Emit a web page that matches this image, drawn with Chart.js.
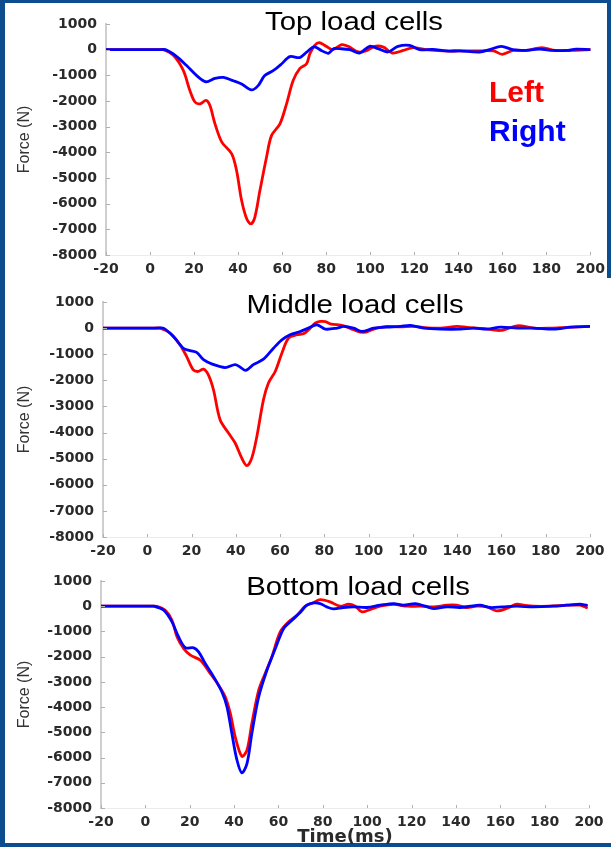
<!DOCTYPE html>
<html lang="en">
<head>
<meta charset="UTF-8" />
<title>Load cell forces</title>
<style>
  html, body { margin: 0; padding: 0; }
  body { width: 611px; height: 847px; background: #0b4d8e; position: relative; overflow: hidden; }
  .panel { position: absolute; background: #fff; }
  canvas { position: absolute; left: 0; }
</style>
</head>
<body>
<div class="panel" style="left:5px;top:3px;width:602px;height:275px"></div>
<div class="panel" style="left:5px;top:278px;width:606px;height:565px"></div>
<canvas id="chart-top" width="611" height="280" style="top:0"></canvas>
<canvas id="chart-mid" width="611" height="280" style="top:280px"></canvas>
<canvas id="chart-bot" width="611" height="287" style="top:560px"></canvas>

<script src="https://cdn.jsdelivr.net/npm/chart.js@4"></script>
<script>
  // time (ms) and force (N), one pair of arrays per curve
  const topLeftT = [-20, 3.5, 6, 10.6, 15.1, 18.1, 20.4, 22.7, 25.4, 27.2, 29.5, 32.6, 37.1, 39.3, 41.6, 43.9, 45.8, 47.6, 49.9, 52.9, 55.2, 59, 62, 65, 68, 71.1, 72.6, 74.8, 77, 80, 83, 87, 90, 94.5, 98, 102, 106, 110, 115, 119.5, 125, 133, 141, 148, 156, 160, 165, 171, 178, 184, 192, 200];
  const topLeftF = [0, 0, 0, -220, -810, -1590, -2040, -2110, -1980, -2180, -2890, -3600, -4060, -4710, -5880, -6590, -6790, -6530, -5490, -4190, -3340, -2890, -2110, -1200, -740, -550, -160, 170, 270, 130, 0, 195, 130, -90, -50, 130, 100, -130, -30, 80, 0, -50, -50, -50, -50, -180, -30, -30, 80, -30, -30, 0];
  const topRightT = [-20, 4.5, 7, 12, 16.6, 21.2, 25.4, 29.5, 33.3, 37.8, 41.6, 46.1, 49.1, 52.1, 55.9, 59.7, 63.5, 68, 71.1, 74.5, 78, 81, 83.5, 86, 90.7, 95.2, 99.7, 103.5, 108, 112.6, 117.9, 122.4, 128.5, 134.5, 140.6, 149.7, 154.2, 159.5, 164.8, 169.3, 176.9, 183, 189, 193.5, 200];
  const topRightF = [0, 0, 0, -260, -620, -1010, -1250, -1120, -1080, -1210, -1340, -1570, -1400, -1010, -820, -560, -270, -310, -100, 110, -40, -140, 40, 40, 0, -130, 130, 40, -90, 130, 170, 0, 10, -50, -50, -90, 0, 130, 0, -30, 20, -30, -30, 20, 0];

  const midLeftT = [-20, 3.3, 5.8, 10.3, 14.8, 17.8, 20.8, 23.1, 25.4, 27.6, 29.9, 32.9, 36.7, 39.7, 42.7, 45, 47.2, 49.5, 52.5, 54.7, 57.8, 60.8, 63.8, 67.6, 71, 73.6, 76, 78.1, 80.5, 82.7, 88.7, 93.2, 97.7, 102.3, 108.3, 114.3, 120.4, 126.4, 132.4, 139.9, 144.5, 152, 159.6, 167.1, 174.6, 182.2, 189.7, 200];
  const midLeftF = [0, 0, 0, -190, -640, -1090, -1600, -1660, -1570, -1790, -2360, -3510, -4020, -4400, -4980, -5270, -4980, -4150, -2740, -2110, -1660, -960, -380, -255, -200, 0, 200, 255, 250, 166, 89, -64, -166, -38, 64, 50, 64, 10, 0, 64, 30, -20, -89, 89, 0, 0, 30, 64];
  const midRightT = [-20, 4.8, 7.3, 11.8, 16.3, 19.3, 22.3, 25.4, 29.1, 35.2, 39.7, 41.9, 44.5, 47.9, 52.5, 57, 60.8, 64.5, 69.1, 72.8, 76.6, 80.4, 85.7, 88.7, 93.2, 97, 102.3, 108.3, 114.3, 118.9, 124.9, 132.4, 141.5, 147.5, 153.5, 159.6, 167.1, 174.6, 183.7, 191.3, 200];
  const midRightF = [0, 0, 0, -320, -770, -860, -930, -1210, -1370, -1510, -1400, -1490, -1620, -1400, -1190, -770, -450, -255, -130, 0, 128, -38, 0, 64, 0, -128, 0, 38, 64, 102, 0, -38, -38, 0, -38, 38, 0, 0, -38, 38, 64];

  const botLeftT = [-20, 2.7, 5.2, 9, 12, 14.3, 17.3, 20.3, 24.8, 29.3, 33, 36, 38.3, 40.5, 43.5, 45.8, 48, 51.1, 54, 57, 60.8, 64.6, 68.3, 72.1, 75.8, 78.8, 83.3, 87.8, 91.6, 94.6, 97.6, 101.3, 105.9, 111.9, 117.9, 123.9, 129.9, 135.9, 140.4, 144.9, 149.4, 153.9, 158.4, 162.9, 167.4, 170.4, 174.9, 182.4, 189.9, 195.9, 198.9];
  const botLeftF = [0, 0, 0, -160, -560, -1220, -1680, -1940, -2140, -2670, -3130, -3590, -4250, -5180, -5950, -5710, -4650, -3330, -2670, -2010, -1020, -620, -360, 0, 140, 260, 172, 0, 79, 0, -225, -132, 0, 79, 0, 0, -26, 40, 40, -53, 0, -26, -185, -90, 79, 40, 0, 0, 40, 40, -53];
  const botRightT = [-20, 1.5, 3.8, 8.3, 12, 15, 18, 21.8, 24, 27, 30.8, 34.5, 36.8, 39, 41.3, 43.5, 45.8, 48, 51.1, 54.8, 58.6, 62.3, 66.1, 69.8, 72.8, 75.8, 78.8, 81.8, 84.8, 89.3, 93.8, 99.9, 105.9, 111.9, 116.4, 121.7, 126.2, 129.9, 135.9, 141.9, 146.4, 150.9, 155.4, 161, 167.4, 175, 183.9, 190, 195.9, 198.9];
  const botRightF = [0, 0, 0, -160, -620, -1220, -1640, -1650, -1810, -2270, -2800, -3400, -3990, -5050, -6100, -6610, -6240, -5050, -3590, -2540, -1680, -890, -555, -250, 40, 132, 106, -26, -106, -50, -26, -50, 40, 106, 40, 106, 0, -92, -26, -50, 0, 40, -50, -26, 0, -26, 0, 40, 79, 40];

  const seriesNames = ['Left', 'Right'];
  const timeTicks = { min: -20, max: 200, step: 20 };
  const forceTicks = { min: -8000, max: 1000, step: 1000 };

  const toPoints = (t, f) => t.map((x, i) => ({ x: x, y: f[i] }));

  // title text drawn inside the plot; the source image is a bit stretched sideways
  const panelTitle = {
    id: 'panelTitle',
    afterDraw(chart, args, opts) {
      if (!opts.text) return;
      const ctx = chart.ctx;
      ctx.save();
      ctx.translate(opts.x, opts.y);
      ctx.scale(1.13, 1);
      ctx.font = '26px "Liberation Sans", Arial, sans-serif';
      ctx.fillStyle = '#000';
      ctx.textAlign = 'center';
      ctx.textBaseline = 'alphabetic';
      ctx.fillText(opts.text, 0, 0);
      ctx.restore();
    }
  };

  // big coloured "Left" / "Right" labels
  const sideLegend = {
    id: 'sideLegend',
    afterDraw(chart, args, opts) {
      if (!opts.show) return;
      const ctx = chart.ctx;
      ctx.save();
      ctx.font = 'bold 30px "Liberation Sans", Arial, sans-serif';
      ctx.textAlign = 'left';
      ctx.textBaseline = 'alphabetic';
      chart.data.datasets.forEach((ds, i) => {
        ctx.fillStyle = ds.borderColor;
        ctx.fillText(ds.label, opts.x, opts.y + i * opts.gap);
      });
      ctx.restore();
    }
  };

  // short tick marks pointing into the plot
  const innerTicks = {
    id: 'innerTicks',
    afterDraw(chart) {
      const ctx = chart.ctx;
      const xs = chart.scales.x, ys = chart.scales.y;
      ctx.save();
      ctx.strokeStyle = '#b0b0b0';
      ctx.lineWidth = 1;
      ctx.beginPath();
      xs.ticks.forEach(t => {
        const px = Math.round(xs.getPixelForValue(t.value)) + 0.5;
        ctx.moveTo(px, ys.bottom);
        ctx.lineTo(px, ys.bottom - 3);
      });
      ys.ticks.forEach(t => {
        const py = Math.round(ys.getPixelForValue(t.value)) + 0.5;
        ctx.moveTo(xs.left, py);
        ctx.lineTo(xs.left + 4, py);
      });
      ctx.stroke();
      ctx.restore();
    }
  };

  const tickFont = { family: '"DejaVu Sans", sans-serif', size: 14, weight: 'bold' };
  const plainNumber = v => String(v);

  function makeChart(id, cfg) {
    const canvas = document.getElementById(id);
    const h = canvas.height;
    new Chart(canvas, {
      type: 'line',
      data: {
        datasets: [
          { label: seriesNames[0], data: toPoints(cfg.leftT, cfg.leftF), borderColor: '#ff0000', order: 2 },
          { label: seriesNames[1], data: toPoints(cfg.rightT, cfg.rightF), borderColor: '#0000ff', order: 1 }
        ]
      },
      options: {
        responsive: false,
        animation: false,
        layout: { padding: { top: cfg.area.top, right: 611 - cfg.area.right, bottom: 0, left: 0 } },
        elements: {
          point: { radius: 0 },
          line: { borderWidth: 2.8, tension: 0.32, fill: false, borderJoinStyle: 'round', borderCapStyle: 'round' }
        },
        plugins: {
          legend: { display: false },
          tooltip: { enabled: false },
          panelTitle: { text: cfg.title, x: cfg.titleX, y: cfg.titleY },
          sideLegend: { show: !!cfg.legend, x: 489, y: 102, gap: 39 }
        },
        scales: {
          x: {
            type: 'linear',
            min: timeTicks.min,
            max: timeTicks.max,
            afterFit: s => { s.height = h - cfg.area.bottom; },
            grid: { display: false, drawTicks: false },
            border: { color: '#ececec', width: 1 },
            ticks: { stepSize: timeTicks.step, padding: 6, color: '#2a2a2a', font: tickFont, maxRotation: 0, callback: plainNumber },
            title: {
              display: !!cfg.xTitle,
              text: cfg.xTitle || '',
              color: '#2a2a2a',
              font: { family: '"DejaVu Sans", sans-serif', size: 18, weight: 'bold' },
              padding: { top: 0, bottom: -1 }
            }
          },
          y: {
            min: forceTicks.min,
            max: forceTicks.max,
            afterFit: s => { s.width = cfg.area.left; },
            grid: { display: false, drawTicks: false },
            border: { color: '#cfcfcf', width: 2 },
            ticks: { stepSize: forceTicks.step, padding: 9, color: '#2a2a2a', font: tickFont, callback: plainNumber },
            title: {
              display: true,
              text: 'Force (N)',
              color: '#333',
              font: { family: '"Liberation Sans", Arial, sans-serif', size: 16 },
              padding: { top: 15, bottom: 0 }
            }
          }
        }
      },
      plugins: [panelTitle, sideLegend, innerTicks]
    });
  }

  makeChart('chart-top', {
    leftT: topLeftT, leftF: topLeftF, rightT: topRightT, rightF: topRightF,
    area: { left: 106, right: 591, top: 24, bottom: 255 },
    title: 'Top load cells', titleX: 354, titleY: 30, legend: true
  });
  makeChart('chart-mid', {
    leftT: midLeftT, leftF: midLeftF, rightT: midRightT, rightF: midRightF,
    area: { left: 103, right: 590, top: 22, bottom: 257 },
    title: 'Middle load cells', titleX: 355, titleY: 33
  });
  makeChart('chart-bot', {
    leftT: botLeftT, leftF: botLeftF, rightT: botRightT, rightF: botRightF,
    area: { left: 101, right: 589, top: 21, bottom: 248 },
    title: 'Bottom load cells', titleX: 358, titleY: 35, xTitle: 'Time(ms)'
  });
</script>
</body>
</html>
